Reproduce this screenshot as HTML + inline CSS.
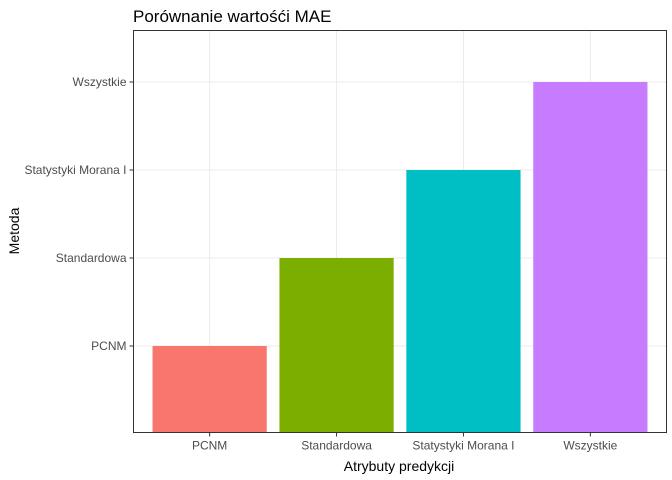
<!DOCTYPE html>
<html><head><meta charset="utf-8"><style>body{margin:0;background:#fff}svg{display:block;font-family:"Liberation Sans",Arial,sans-serif}</style></head>
<body>
<svg id="chart" width="672" height="480" viewBox="0 0 672 480" xmlns="http://www.w3.org/2000/svg">
<text x="133" y="22" font-size="17" fill="#000">Porównanie wartośći MAE</text>
<g id="grid"></g><g id="bars"></g><g id="axes"></g>
<rect x="133.5" y="30.5" width="533" height="402" fill="none" stroke="#333" stroke-width="1"/>
<text x="399" y="471" font-size="14" text-anchor="middle">Atrybuty predykcji</text>
<text transform="translate(19,231) rotate(-90)" font-size="14" text-anchor="middle">Metoda</text>
</svg>
<script>
const categories = ["PCNM","Standardowa","Statystyki Morana I","Wszystkie"];
const yLevels = ["PCNM","Standardowa","Statystyki Morana I","Wszystkie"];
const values = [1,2,3,4];
const colors = ["#F8766D","#7CAE00","#00BFC4","#C77CFF"];
const NS="http://www.w3.org/2000/svg";
const L=133.5,R=666.5,T=30.5,B=432.5;
const xs=(R-L)/(categories.length+0.2);
const x=i=>L+xs*(i+0.6);
const ys=88;
const y=v=>434-ys*v;
function mk(tag,a,p){const e=document.createElementNS(NS,tag);for(const k in a)e.setAttribute(k,a[k]);p.appendChild(e);return e;}
const g=document.getElementById('grid'),b=document.getElementById('bars'),ax=document.getElementById('axes');
categories.forEach((c,i)=>{
  const l=mk('line',{x1:x(i),x2:x(i),y1:T,y2:B,stroke:'#EBEBEB','stroke-width':1},g);
  
  
  const t=mk('line',{x1:x(i),x2:x(i),y1:B,y2:B+4,stroke:'#333'},ax);
  
  
  const tx=mk('text',{x:x(i),y:B+17,'font-size':12,fill:'#4D4D4D','text-anchor':'middle'},ax);
  tx.textContent=c;
  
  
});
yLevels.forEach((c,i)=>{
  const yy=y(i+1);
  const l=mk('line',{x1:L,x2:R,y1:yy,y2:yy,stroke:'#EBEBEB','stroke-width':1},g);
  
  
  const t=mk('line',{x1:L-4,x2:L,y1:yy,y2:yy,stroke:'#333'},ax);
  
  
  const tx=mk('text',{x:L-7,y:yy+4,'font-size':12,fill:'#4D4D4D','text-anchor':'end'},ax);
  tx.textContent=c;
  
  
});
values.forEach((v,i)=>{
  const w=xs*0.9;
  const r=mk('rect',{x:x(i)-w/2,y:y(v),width:w,height:B-y(v),fill:colors[i]},b);
  
  
});
</script>
</body></html>
